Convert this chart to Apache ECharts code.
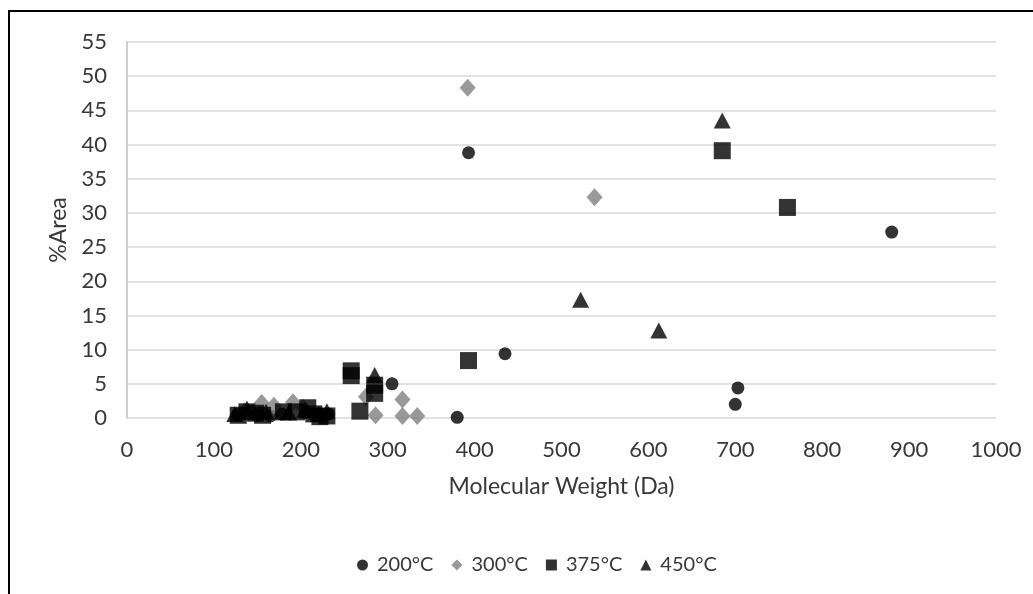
<!DOCTYPE html>
<html>
<head>
<meta charset="utf-8">
<script src="https://cdn.jsdelivr.net/npm/echarts@6/dist/echarts.min.js"></script>
<style>html,body{margin:0;padding:0;background:#fff}#c{width:1033px;height:594px}</style>
</head>
<body>
<div id="c"></div>
<script>
const seriesNames = ['200°C', '300°C', '375°C', '450°C'];
const xTicks = [0, 100, 200, 300, 400, 500, 600, 700, 800, 900, 1000];
const yTicks = [0, 5, 10, 15, 20, 25, 30, 35, 40, 45, 50, 55];
const data200 = [[128,0.5],[150,0.4],[165,0.3],[178,0.6],[205,0.8],[215,0.5],[232,0.6],[305,5.0],[380,0.1],[393,38.8],[435,9.4],[700,2.0],[703,4.4],[880,27.2]];
const data300 = [[135,1.0],[155,2.2],[169,1.8],[191,2.3],[203,1.5],[275,3.1],[286,0.4],[317,2.7],[317,0.3],[334,0.3],[392,48.3],[538,32.3]];
const data375 = [[128,0.4],[138,0.9],[148,0.7],[156,0.4],[180,0.9],[195,0.9],[208,1.5],[215,0.6],[222,0.2],[230,0.3],[258,6.9],[258,6.2],[268,1.0],[285,4.8],[285,3.6],[393,8.4],[685,39.1],[760,30.8]];
const data450 = [[124,0.6],[138,1.4],[160,0.9],[186,0.8],[205,1.2],[220,0.6],[230,1.0],[285,6.3],[522,17.3],[612,12.8],[685,43.5]];

const FONT = 'Lato';
const TXT = '#383838';
const chart = echarts.init(document.getElementById('c'));
chart.setOption({
  animation: false,
  backgroundColor: '#fff',
  textStyle: { fontFamily: FONT },
  graphic: [{
    type: 'rect', silent: true, z: 100,
    shape: { x: 9, y: 11, width: 1100, height: 700 },
    style: { fill: 'none', stroke: '#000', lineWidth: 2 }
  }],
  grid: { left: 127, right: 37, top: 42, bottom: 176, containLabel: false },
  legend: {
    bottom: 14, left: 352,
    itemWidth: 11, itemHeight: 11, itemGap: 18,
    textStyle: { fontFamily: FONT, fontSize: 20, color: TXT, padding: [0, 0, 0, 4] },
    data: [
      { name: seriesNames[0], icon: 'circle' },
      { name: seriesNames[1], icon: 'diamond' },
      { name: seriesNames[2], icon: 'rect' },
      { name: seriesNames[3], icon: 'triangle' }
    ]
  },
  xAxis: {
    type: 'value', min: xTicks[0], max: xTicks[xTicks.length - 1], interval: 100,
    name: 'Molecular Weight (Da)', nameLocation: 'middle', nameGap: 57,
    nameTextStyle: { fontFamily: FONT, fontSize: 23, color: TXT },
    axisLine: { show: false }, axisTick: { show: false }, splitLine: { show: false },
    axisLabel: { fontFamily: FONT, fontSize: 22, color: TXT, margin: 21, formatter: v => String(v) }
  },
  yAxis: {
    type: 'value', min: yTicks[0], max: yTicks[yTicks.length - 1], interval: 5,
    name: '%Area', nameLocation: 'middle', nameGap: 57,
    nameTextStyle: { fontFamily: FONT, fontSize: 23, color: TXT },
    axisLine: { show: true, lineStyle: { color: '#bfbfbf', width: 1.5 } },
    axisTick: { show: false },
    splitLine: { show: true, lineStyle: { color: '#d9d9d9', width: 1.5 } },
    axisLabel: { fontFamily: FONT, fontSize: 22, color: TXT, margin: 20 }
  },
  series: [
    { name: seriesNames[0], type: 'scatter', symbol: 'circle', symbolSize: 13, itemStyle: { color: '#000' }, data: data200 },
    { name: seriesNames[1], type: 'scatter', symbol: 'diamond', symbolSize: [16, 18], itemStyle: { color: '#808080' }, data: data300 },
    { name: seriesNames[2], type: 'scatter', symbol: 'rect', symbolSize: 17, itemStyle: { color: '#000' }, data: data375 },
    { name: seriesNames[3], type: 'scatter', symbol: 'triangle', symbolSize: [17, 16], itemStyle: { color: '#000' }, data: data450 }
  ]
});
</script>
</body>
</html>
